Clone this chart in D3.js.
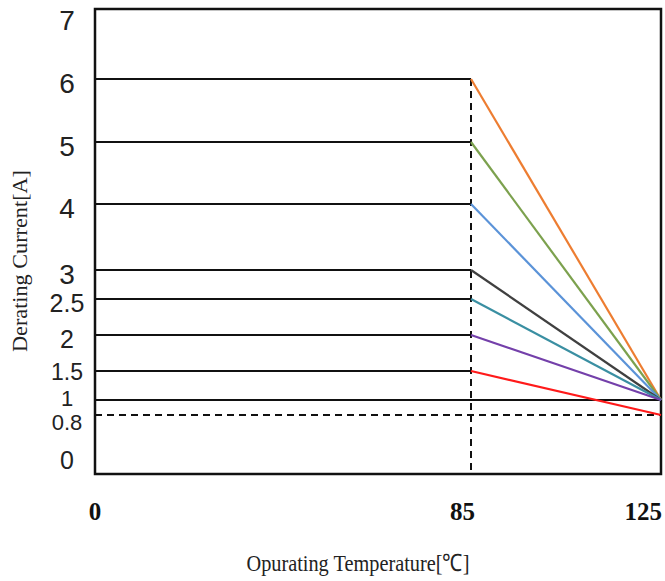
<!DOCTYPE html>
<html><head><meta charset="utf-8">
<script src="https://cdn.jsdelivr.net/npm/d3@7"></script>
<style>body{margin:0;background:#fff}svg{display:block}</style>
</head><body><svg id="c" width="665" height="581"></svg>
<script>
// ---- data ----
const yTickValues = [0, 0.8, 1, 1.5, 2, 2.5, 3, 4, 5, 6, 7];
const yTickLabels = ["0", "0.8", "1", "1.5", "2", "2.5", "3", "4", "5", "6", "7"];
const xTickValues = [0, 85, 125];
const xTickLabels = ["0", "85", "125"];
const ratedCurrents = [6, 5, 4, 3, 2.5, 2, 1.5];
const endCurrents = [1, 1, 1, 1, 1, 1, 0.8];
const deratingStart = 85;
const deratingEnd = 125;
const minLevel = 1;
const minLevelDashed = 0.8;
const seriesColors = ["#ED7D31", "#7CA14E", "#5B93D8", "#404040", "#3A8FA2", "#7440AA", "#FF1A1A"];

const svg = d3.select("#c");
const pLeft = 95, pRight = 661, pTop = 9, pBottom = 474;

// hand-drawn (piecewise) scales of the original figure
const x = d3.scaleLinear().domain([0, 85, 125]).range([pLeft, 471, pRight]);
const y = d3.scaleLinear()
  .domain([0, 0.8, 1, 1.5, 2, 2.5, 3, 4, 5, 6, 7])
  .range([456, 415, 400, 371, 335, 299, 270, 204, 142, 79, 16]);

const g = svg.append("g");

// frame
g.append("rect").attr("x", pLeft).attr("y", pTop).attr("width", pRight - pLeft).attr("height", pBottom - pTop)
  .attr("fill", "none").attr("stroke", "#111").attr("stroke-width", 2.5);

// dashed 0.8 line
g.append("line").attr("x1", x(0)).attr("x2", x(deratingEnd)).attr("y1", y(minLevelDashed)).attr("y2", y(minLevelDashed))
  .attr("stroke", "#111").attr("stroke-width", 2).attr("stroke-dasharray", "7,5");

// vertical dashed at 85
g.append("line").attr("x1", x(deratingStart)).attr("x2", x(deratingStart)).attr("y1", y(d3.max(ratedCurrents))).attr("y2", pBottom)
  .attr("stroke", "#111").attr("stroke-width", 2).attr("stroke-dasharray", "7,5");

// solid line at 1A full width
g.append("line").attr("x1", x(0)).attr("x2", x(deratingEnd)).attr("y1", y(minLevel)).attr("y2", y(minLevel))
  .attr("stroke", "#111").attr("stroke-width", 2.2);

// flat rated lines
g.selectAll(".flat").data(ratedCurrents).join("line").attr("class", "flat")
  .attr("x1", x(0)).attr("x2", x(deratingStart))
  .attr("y1", d => y(d)).attr("y2", d => y(d))
  .attr("stroke", "#111").attr("stroke-width", 2.2);

// derating slopes
g.selectAll(".slope").data(ratedCurrents).join("line").attr("class", "slope")
  .attr("x1", x(deratingStart)).attr("x2", x(deratingEnd))
  .attr("y1", d => y(d)).attr("y2", (d, i) => y(endCurrents[i]))
  .attr("stroke", (d, i) => seriesColors[i]).attr("stroke-width", 2.2);

// y tick labels
const crowded = v => v === 1 || v === 0.8 || v === 1.5;
g.selectAll(".yl").data(yTickValues).join("text").attr("class", "yl")
  .attr("x", 67).attr("y", d => y(d) + (d === 1 ? -2 : d === 0.8 ? 7 : d === 1.5 ? 1 : 4))
  .attr("text-anchor", "middle").attr("dominant-baseline", "central")
  .attr("font-family", "Liberation Sans, Arial, sans-serif")
  .attr("font-size", d => (Number.isInteger(d) && d >= 3) ? 28 : (crowded(d) ? (d === 1.5 ? 23 : 22) : 25))
  .attr("fill", "#222")
  .text((d, i) => yTickLabels[i]);

// x tick labels
g.selectAll(".xl").data(xTickValues).join("text").attr("class", "xl")
  .attr("x", d => d === 0 ? x(d) : x(d) + (d === deratingEnd ? 1 : 4))
  .attr("y", 520)
  .attr("text-anchor", d => d === 0 ? "middle" : "end")
  .attr("font-family", "Liberation Serif, Times New Roman, serif")
  .attr("font-weight", "bold").attr("font-size", 25).attr("fill", "#111")
  .text((d, i) => xTickLabels[i]);

// axis titles
svg.append("text").attr("x", 358).attr("y", 571).attr("text-anchor", "middle")
  .attr("font-family", "Liberation Serif, Times New Roman, serif").attr("font-size", 24).attr("fill", "#222")
  .attr("textLength", 223).attr("lengthAdjust", "spacingAndGlyphs")
  .text("Opurating Temperature[℃]");

svg.append("text").attr("transform", "translate(27,261) rotate(-90)").attr("text-anchor", "middle")
  .attr("font-family", "Liberation Serif, Times New Roman, serif").attr("font-size", 21).attr("fill", "#222")
  .attr("textLength", 182).attr("lengthAdjust", "spacingAndGlyphs")
  .text("Derating Current[A]");
</script></body></html>
